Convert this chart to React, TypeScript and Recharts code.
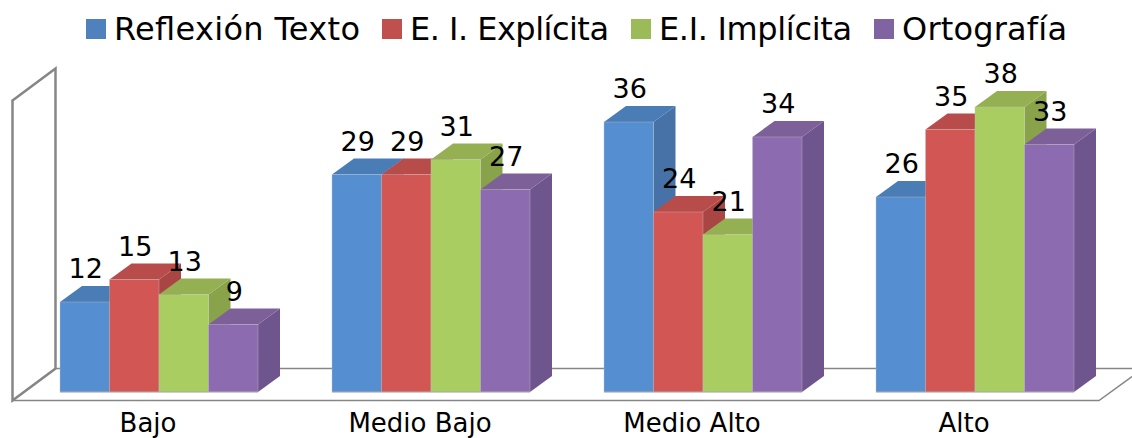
import { Bar, BarChart, LabelList, Legend, XAxis, YAxis, usePlotArea } from "recharts";

const categories = ["Bajo", "Medio Bajo", "Medio Alto", "Alto"];
const reflexion = [12, 29, 36, 26];
const explicita = [15, 29, 24, 35];
const implicita = [13, 31, 21, 38];
const ortografia = [9, 27, 34, 33];

const data = categories.map((name, i) => ({
  name,
  reflexion: reflexion[i],
  explicita: explicita[i],
  implicita: implicita[i],
  ortografia: ortografia[i],
}));

const FONT = "'DejaVu Sans', sans-serif";
const DX = 22;
const DY = 16;
// the reference's legend text runs a bit wider/narrower than ours, so pin the lengths
const LEGEND_TEXT_WIDTH: Record<string, number> = {
  "Reflexión Texto": 246,
  "E. I. Explícita": 199,
  "E.I. Implícita": 193,
  "Ortografía": 165,
};

// extruded box: side and top faces are offset from what the bar scale gives us
function box(front: string, top: string, side: string) {
  return function Box3D({ x, y, width, height }: any) {
    const r = x + width;
    const b = y + height;
    return (
      <g>
        <polygon points={`${r},${y} ${r + DX},${y - DY} ${r + DX},${b - DY} ${r},${b}`} fill={side} />
        <polygon points={`${x},${y} ${x + DX},${y - DY} ${r + DX},${y - DY} ${r},${y}`} fill={top} />
        <rect x={x} y={y} width={width} height={height} fill={front} stroke="#c4c4c4" strokeOpacity={0.5} strokeWidth={0.75} />
        <line x1={x} y1={b} x2={r} y2={b} stroke="#a6a6a6" strokeWidth={1} />
      </g>
    );
  };
}

function Walls() {
  const p = usePlotArea();
  if (!p) return null;
  const stroke = "#868686";
  const fx = p.x - 10.5;
  const fb = p.y + p.height + 8.5;
  const ft = fb - 300;
  const wallDx = 43;
  const wallDy = 32;
  return (
    <g fill="none" stroke={stroke}>
      <polygon
        points={`${fx},${ft} ${fx + wallDx},${ft - wallDy} ${fx + wallDx},${fb - wallDy} ${fx},${fb}`}
        fill="#fff"
        strokeWidth={2.5}
      />
      <polyline points={`${fx},${fb} ${1099},${fb} ${1132},${fb - 24}`} strokeWidth={1.5} />
      <line x1={fx + wallDx} y1={fb - wallDy} x2={1132} y2={fb - wallDy} strokeWidth={1.5} />
    </g>
  );
}

function LegendRow({ payload }: any) {
  return (
    <div style={{ display: "flex", alignItems: "center", whiteSpace: "nowrap" }}>
      {(payload || []).map((item: any) => {
        const w = LEGEND_TEXT_WIDTH[item.value];
        return (
          <div key={item.value} style={{ display: "flex", alignItems: "center", marginRight: 22 }}>
            <span style={{ width: 20, height: 20, background: item.color, marginRight: 8, display: "inline-block" }} />
            <svg width={w} height={40} style={{ display: "block", overflow: "visible" }}>
              <text x={0} y={31} fontSize={32} fill="#000" textLength={w} fontFamily={FONT}>
                {item.value}
              </text>
            </svg>
          </div>
        );
      })}
    </div>
  );
}

const labelStyle = { fontSize: 27, fill: "#000", fontFamily: FONT };

export default function App() {
  return (
    <div style={{ position: "absolute", left: 0, top: 0, fontFamily: FONT }}>
      <BarChart
        width={1132}
        height={438}
        data={data}
        margin={{ top: 52, right: 21, bottom: 0, left: 23 }}
        barSize={49.5}
        barGap={0}
      >
        <Walls />
        <XAxis
          dataKey="name"
          axisLine={false}
          tickLine={false}
          interval={0}
          height={46}
          tickMargin={16}
          tick={{ fontSize: 26, fill: "#000", fontFamily: FONT, dx: -11 }}
        />
        <YAxis hide domain={[0, 40]} />
        <Legend
          verticalAlign="top"
          itemSorter={null}
          content={<LegendRow />}
          wrapperStyle={{ position: "absolute", left: 86, top: 9, width: 1040 }}
        />
        <Bar dataKey="reflexion" name="Reflexión Texto" fill="#4f81bd" isAnimationActive={false}
          shape={box("#558ed1", "#4a7cb5", "#4672a8")}>
          <LabelList dataKey="reflexion" position="top" offset={24} dx={1} style={labelStyle} />
        </Bar>
        <Bar dataKey="explicita" name="E. I. Explícita" fill="#c0504d" isAnimationActive={false}
          shape={box("#d25653", "#b84c4a", "#a94543")}>
          <LabelList dataKey="explicita" position="top" offset={24} dx={1} style={labelStyle} />
        </Bar>
        <Bar dataKey="implicita" name="E.I. Implícita" fill="#9bbb59" isAnimationActive={false}
          shape={box("#a9cd60", "#95b053", "#89a34b")}>
          <LabelList dataKey="implicita" position="top" offset={24} dx={1} style={labelStyle} />
        </Bar>
        <Bar dataKey="ortografia" name="Ortografía" fill="#8064a2" isAnimationActive={false}
          shape={box("#8c6bb0", "#7d6098", "#6f558d")}>
          <LabelList dataKey="ortografia" position="top" offset={24} dx={1} style={labelStyle} />
        </Bar>
      </BarChart>
    </div>
  );
}
